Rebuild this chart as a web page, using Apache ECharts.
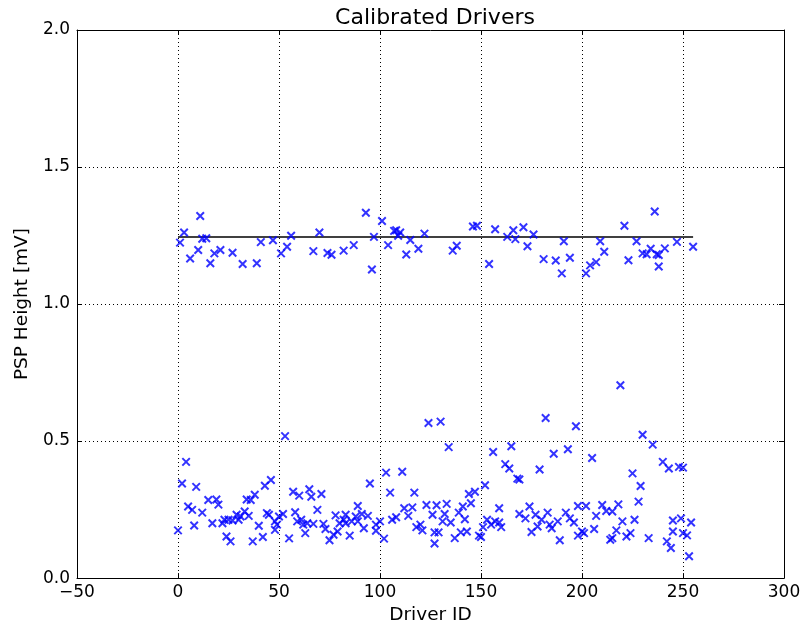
<!DOCTYPE html>
<html>
<head>
<meta charset="utf-8">
<script src="https://cdn.jsdelivr.net/npm/echarts@6/dist/echarts.min.js"></script>
<style>
html, body { margin: 0; padding: 0; background: #ffffff; }
#chart { width: 804px; height: 630px; }
</style>
</head>
<body>
<div id="chart"></div>
<script>
// Calibrated drivers: PSP height per driver, two populations plus the target level.
const upperIds = [1,3,6,11,10,12,14,16,18,21,27,32,39,41,47,51,54,56,67,70,74,76,82,87,93,96,97,101,104,107,108,110,109,113,115,119,122,136,138,146,148,154,157,163,166,167,171,173,176,181,187,190,194,191,202,204,207,209,211,221,223,227,230,232,234,236,237,238,238,241,247,255];
const upperVals = [1.224,1.261,1.166,1.321,1.197,1.238,1.240,1.149,1.185,1.197,1.187,1.146,1.149,1.226,1.233,1.185,1.209,1.249,1.193,1.261,1.186,1.180,1.195,1.215,1.333,1.126,1.245,1.303,1.215,1.267,1.269,1.261,1.249,1.181,1.234,1.202,1.257,1.195,1.213,1.283,1.286,1.146,1.273,1.245,1.269,1.237,1.280,1.211,1.254,1.164,1.159,1.112,1.169,1.229,1.112,1.141,1.153,1.229,1.191,1.286,1.160,1.229,1.185,1.182,1.202,1.338,1.182,1.179,1.137,1.203,1.227,1.209];

const lowerIds = [0,2,4,5,7,8,9,12,15,17,19,20,22,23,24,25,26,27,29,30,31,33,34,35,36,37,38,40,42,43,44,45,46,48,48,49,50,52,53,55,57,58,59,60,61,62,63,64,65,66,67,69,71,72,73,75,77,78,79,80,82,83,83,85,86,88,89,89,91,92,94,95,98,98,100,102,103,105,106,108,111,112,114,116,117,118,120,121,123,124,126,127,127,128,129,130,131,132,133,134,135,137,139,140,141,142,143,144,145,147,149,150,151,152,153,155,156,157,159,159,160,162,164,165,168,169,169,172,174,175,177,178,179,180,182,183,184,185,186,188,189,192,193,194,196,197,198,198,200,201,202,205,206,207,210,212,214,215,215,217,218,219,220,222,224,225,226,228,229,230,233,235,240,242,243,244,245,245,248,249,250,250,252,253,254];
const lowerVals = [0.174,0.345,0.424,0.261,0.249,0.192,0.333,0.239,0.285,0.200,0.287,0.268,0.200,0.213,0.152,0.213,0.134,0.210,0.231,0.213,0.225,0.243,0.287,0.227,0.285,0.134,0.304,0.191,0.150,0.337,0.237,0.231,0.358,0.207,0.176,0.195,0.225,0.234,0.518,0.145,0.315,0.240,0.207,0.301,0.213,0.195,0.164,0.200,0.324,0.297,0.198,0.249,0.307,0.198,0.179,0.138,0.158,0.229,0.170,0.200,0.213,0.200,0.231,0.155,0.207,0.225,0.263,0.207,0.234,0.182,0.227,0.345,0.173,0.195,0.207,0.144,0.385,0.312,0.213,0.222,0.388,0.255,0.227,0.258,0.312,0.186,0.195,0.174,0.267,0.566,0.231,0.126,0.167,0.266,0.167,0.571,0.207,0.234,0.271,0.478,0.203,0.146,0.239,0.167,0.261,0.215,0.170,0.307,0.273,0.315,0.155,0.150,0.186,0.339,0.213,0.195,0.460,0.207,0.255,0.203,0.186,0.416,0.400,0.481,0.363,0.360,0.234,0.218,0.261,0.168,0.231,0.188,0.396,0.213,0.584,0.239,0.195,0.182,0.454,0.207,0.138,0.239,0.470,0.218,0.203,0.554,0.155,0.263,0.170,0.164,0.263,0.438,0.179,0.227,0.267,0.245,0.140,0.146,0.243,0.174,0.269,0.704,0.207,0.152,0.164,0.382,0.213,0.279,0.336,0.523,0.146,0.487,0.424,0.134,0.400,0.110,0.170,0.210,0.406,0.218,0.403,0.164,0.156,0.080,0.203];

// Target height drawn as a horizontal reference over the driver range
const targetIds = [0, 255];
const targetHeight = 1.245;

const xTicks = { min: -50, max: 300, step: 50 };
const yTicks = { min: 0, max: 2.0, step: 0.5 };

const FONT = 'DejaVu Sans';
const pairs = (xs, ys) => xs.map((x, i) => [x, ys[i]]);
const minus = v => String(v).replace('-', '\u2212');

const tickStyle = { show: true, inside: true, length: 5, lineStyle: { color: '#000', width: 1 } };
const frameLine = { show: true, onZero: false, lineStyle: { color: '#000', width: 1 } };
const gridLine = { show: true, lineStyle: { color: '#000', width: 1, type: [1, 3] } };

const chart = echarts.init(document.getElementById('chart'), null, { renderer: 'canvas' });

const xMark = 'path://M0,0L10,10M10,0L0,10';
const markerStyle = { color: 'none', borderColor: '#0000ff', borderWidth: 2 };

chart.setOption({
  animation: false,
  backgroundColor: '#ffffff',
  title: {
    text: 'Calibrated Drivers',
    left: 430,
    textAlign: 'center',
    top: 2,
    textStyle: { fontFamily: FONT, fontSize: 22, fontWeight: 'normal', color: '#000' }
  },
  grid: { left: 77, right: 20, top: 30, bottom: 47, containLabel: false },
  xAxis: [
    {
      type: 'value', position: 'bottom',
      min: xTicks.min, max: xTicks.max, interval: xTicks.step,
      name: 'Driver ID', nameLocation: 'middle', nameGap: 27,
      nameTextStyle: { fontFamily: FONT, fontSize: 18.5, color: '#000' },
      axisLine: frameLine, axisTick: tickStyle, splitLine: gridLine,
      axisLabel: { margin: 6, fontFamily: FONT, fontSize: 17, color: '#000', formatter: v => minus(v) }
    },
    {
      type: 'value', position: 'top',
      min: xTicks.min, max: xTicks.max, interval: xTicks.step,
      axisLine: frameLine, axisTick: tickStyle, splitLine: { show: false },
      axisLabel: { show: false }
    }
  ],
  yAxis: [
    {
      type: 'value', position: 'left',
      min: yTicks.min, max: yTicks.max, interval: yTicks.step,
      name: 'PSP Height [mV]', nameLocation: 'middle', nameGap: 45, nameRotate: 90,
      nameTextStyle: { fontFamily: FONT, fontSize: 18.5, color: '#000' },
      axisLine: frameLine, axisTick: tickStyle, splitLine: gridLine,
      axisLabel: { margin: 7, fontFamily: FONT, fontSize: 17, color: '#000', formatter: v => v.toFixed(1) }
    },
    {
      type: 'value', position: 'right',
      min: yTicks.min, max: yTicks.max, interval: yTicks.step,
      axisLine: frameLine, axisTick: tickStyle, splitLine: { show: false },
      axisLabel: { show: false }
    }
  ],
  series: [
    {
      type: 'line', xAxisIndex: 0, yAxisIndex: 0,
      data: targetIds.map(x => [x, targetHeight]),
      showSymbol: false, symbol: 'none',
      lineStyle: { color: '#000', width: 1.5 }, z: 3, silent: true
    },
    {
      type: 'scatter', xAxisIndex: 0, yAxisIndex: 0,
      data: pairs(upperIds, upperVals),
      symbol: xMark, symbolSize: 7.5, itemStyle: markerStyle, z: 4
    },
    {
      type: 'scatter', xAxisIndex: 0, yAxisIndex: 0,
      data: pairs(lowerIds, lowerVals),
      symbol: xMark, symbolSize: 7.5, itemStyle: markerStyle, z: 4
    }
  ]
});
</script>
</body>
</html>
